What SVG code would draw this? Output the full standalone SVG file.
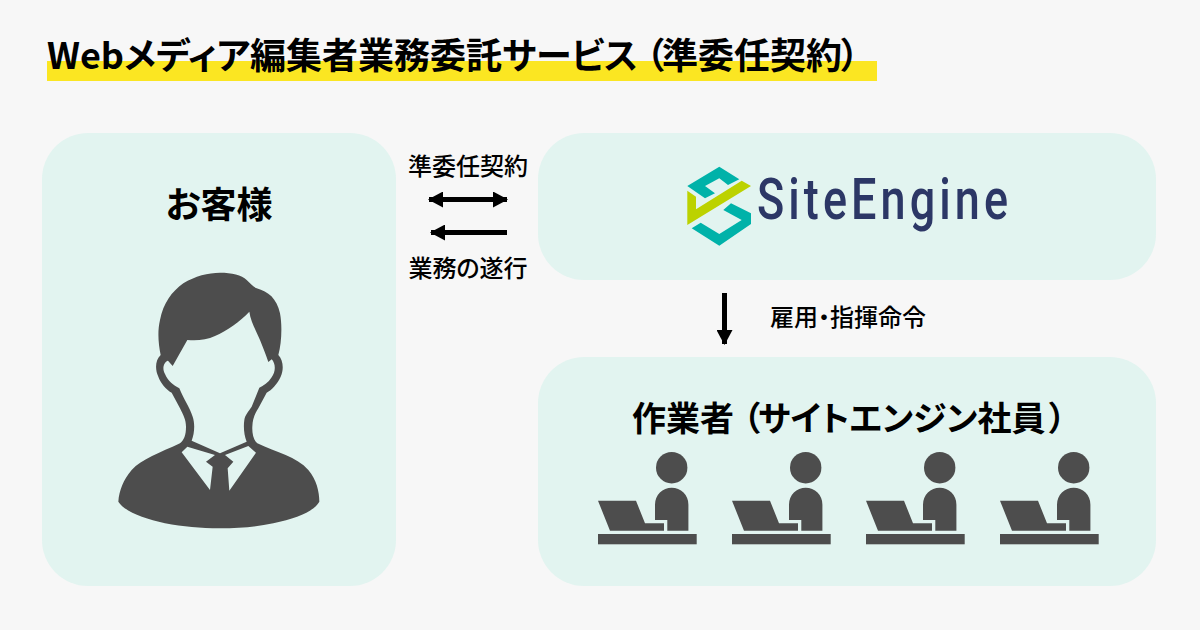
<svg xmlns="http://www.w3.org/2000/svg" width="1200" height="630" viewBox="0 0 1200 630">
<style>
.t{font-family:"Noto Sans CJK JP","Noto Sans",sans-serif;fill:#000;font-feature-settings:"palt"}
.b{font-weight:700}
.m{font-weight:500;font-size:24px}
.panel{fill:#e2f4f0}
.ic{fill:#4d4d4d}
.line{stroke:#000;stroke-width:5;fill:none}
</style>
<defs>
<marker id="ah" markerUnits="userSpaceOnUse" markerWidth="15" markerHeight="16" refX="14" refY="8" orient="auto-start-reverse"><path d="M0 0L15 8L0 16Z" fill="#000"/></marker>
<g id="worker">
<circle cx="81.700" cy="27.700" r="15.700" class="ic"/>
<path class="ic" d="M65 80V64.400A16.700 16.700 0 0 1 98.400 64.400V90.700H77.300V80Z"/>
<path class="ic" d="M8 60.700H46L55 83.300H74V90.700H20Z"/>
<rect x="8" y="94" width="98.700" height="10.300" class="ic"/>
</g>
</defs>
<rect width="1200" height="630" fill="#f7f7f7"/>
<g id="title">
<rect x="47" y="61" width="830" height="20" fill="#fbe622"/>
<text class="t" font-weight="600" x="47" y="69" font-size="36">Webメディア編集者業務委託サービス<tspan x="646">（</tspan><tspan x="662">準委任契約</tspan><tspan x="841">）</tspan></text>
</g>
<g id="client">
<rect x="42" y="133" width="354" height="453" rx="46" class="panel"/>
<text class="t b" x="219" y="218" font-size="36" text-anchor="middle">お客様</text>
<g transform="translate(100 260) scale(.33333)">
<path class="ic" d="M360 38C395 38 425 45 440 60C450 70 460 80 470 85C505 95 530 115 540 160C547 195 545 250 535 285C550 300 552 330 542 350C532 372 515 390 500 398L475 445C462 465 458 480 457 500C456 520 460 540 472 550C530 578 590 590 625 630C650 660 658 695 658 725C640 755 590 775 520 790C470 800 420 805 360 805C300 805 250 800 195 790C130 775 75 755 55 725C58 690 70 660 95 630C125 598 180 578 240 550C252 540 258 525 258 500C258 480 250 465 240 445L215 398C198 388 182 370 175 350C165 330 165 300 182 285C175 250 172 215 180 180C190 130 215 95 250 70C285 48 325 38 360 38Z"/>
<path class="panel" d="M448 155C452 185 470 215 480 240C490 265 498 285 505 306L515 298C528 312 527 335 515 352C505 368 490 378 478 383L455 440C445 455 435 465 433 480C430 500 432 525 440 545L360 580L275 542C284 520 285 490 278 470C270 445 250 415 238 385C220 375 205 365 195 342C185 325 192 305 204 302L218 318L262 240C290 243 320 240 345 228C380 212 420 185 448 155Z"/>
<path class="panel" d="M262 560L245 577L330 690L338 620L318 605L345 585ZM445 558L375 585L400 605L383 625L388 692L468 578Z"/>
</g>
</g>
<g id="siteengine">
<rect x="538" y="133" width="618" height="147" rx="46" class="panel"/>
<path fill="#00b2a9" d="M719.300 166.700L739.300 179.300L728 185L719.300 178.300L705 186L715 193.300L705 198.300L687.300 186Z"/>
<path fill="#00b2a9" d="M731 203.300L751 213.300V224L719.300 245.700L691.700 228.300L700.700 222.700L719.300 234L741.700 220L723.300 210Z"/>
<path fill="#bcd200" d="M687.300 190.700L696 196.700V209.300L741.700 180.700L751 186L687.300 225Z"/>
<text transform="translate(757 219) scale(.9 1.14)" font-size="50" textLength="279" lengthAdjust="spacing" fill="#2c3766" font-family="Roboto,sans-serif" font-weight="500">SiteEngine</text>
</g>
<g id="workers">
<rect x="538" y="357" width="618" height="229" rx="46" class="panel"/>
<text class="t b" x="632" y="431" font-size="34">作業者<tspan x="743">（</tspan><tspan x="758">サイトエンジン社員</tspan><tspan x="1049">）</tspan></text>
<use href="#worker" x="590" y="440"/>
<use href="#worker" x="724" y="440"/>
<use href="#worker" x="858" y="440"/>
<use href="#worker" x="992" y="440"/>
</g>
<g id="labels">
<text class="t m" x="468" y="175" text-anchor="middle">準委任契約</text>
<text class="t m" x="468" y="277" text-anchor="middle">業務の遂行</text>
<text class="t m" x="770" y="326">雇用・指揮命令</text>
</g>
<g id="connectors">
<path class="line" d="M429 199.500H507" marker-start="url(#ah)" marker-end="url(#ah)"/>
<path class="line" d="M507 232.500H431" marker-end="url(#ah)"/>
<path class="line" d="M724.500 293V344" marker-end="url(#ah)"/>
</g>
</svg>
